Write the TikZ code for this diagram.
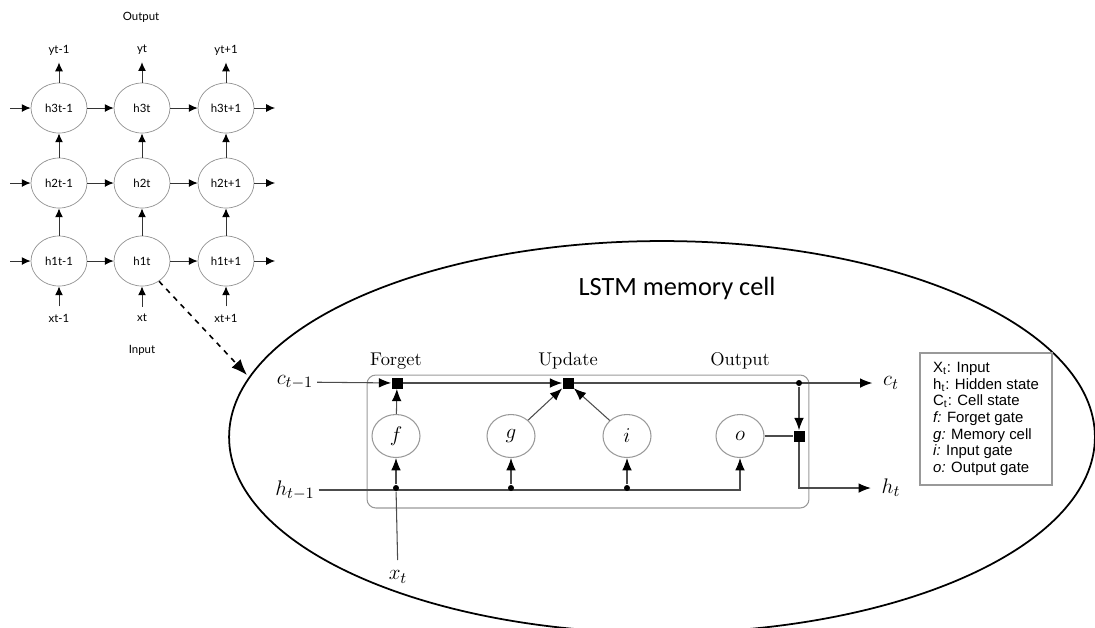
\documentclass[tikz,border=0pt]{standalone}
\usepackage{fontspec}
\newfontfamily\gridfont{Lato}
\newfontfamily\titlefont{Carlito}
\newfontfamily\legendfont{Liberation Sans}
\usetikzlibrary{shapes,arrows.meta,positioning,calc}

\begin{document}
\begin{tikzpicture}[x=0.02cm, y=-0.02cm,
    >={Latex[length=7pt,width=5.5pt,color=black]},
    rnn/.style={ellipse, draw=gray!85, minimum width=1.12cm, minimum height=1cm, inner sep=0pt, font=\gridfont\fontsize{6.5}{7}\selectfont},
    glbl/.style={font=\gridfont\fontsize{6.5}{7}\selectfont, inner sep=1pt},
    garr/.style={->, draw=black!80, line width=0.55pt, >={Latex[length=5pt,width=4.5pt,color=black]}},
    gate/.style={ellipse, draw=gray!80, line width=0.6pt, minimum width=0.96cm, minimum height=0.86cm, inner sep=0pt, font=\fontsize{12}{14}\selectfont},
    mult/.style={rectangle, fill=black, minimum size=0.22cm, inner sep=0pt},
    dot/.style={circle, minimum size=0.13cm, inner sep=0pt},
    flow/.style={draw=black!70, line width=0.6pt},
    var/.style={font=\fontsize{13}{15}\selectfont, inner sep=2pt},
    stage/.style={font=\fontsize{10.5}{12}\selectfont, anchor=base}
]
\useasboundingbox (0,0) rectangle (1095,627);

% Stacked RNN
\node[glbl] (outlbl) at (141,17) {Output};
\node[glbl] (inlbl) at (142,350) {Input};
\foreach \c/\x/\s in {1/59/t-1, 2/142/t, 3/226/t+1} {
  \node[glbl] (y\c) at (\x,50) {y\s};
  \node[glbl] (x\c) at (\x,318) {x\s};
  \foreach \r/\y in {1/261, 2/183, 3/108}
    \node[rnn] (h\r\c) at (\x,\y) {h\r\s};
}
\foreach \c in {1,2,3} {
  \draw[garr, shorten <=3pt] (x\c) -- (h1\c);
  \draw[garr] (h1\c) -- (h2\c);
  \draw[garr] (h2\c) -- (h3\c);
  \draw[garr, shorten >=3pt] (h3\c) -- (y\c);
}
\foreach \r/\y in {1/261, 2/183, 3/108} {
  \coordinate (in\r) at (10,\y);
  \coordinate (out\r) at (275,\y);
  \draw[garr] (in\r) -- (h\r1);
  \draw[garr] (h\r1) -- (h\r2);
  \draw[garr] (h\r2) -- (h\r3);
  \draw[garr] (h\r3) -- (out\r);
}

% Zoom into the cell
\node[ellipse, draw, line width=1pt, minimum width=17.32cm, minimum height=7.84cm] (cell) at (662,437) {};
\coordinate (zoomin) at (247,375);
\draw[->, dashed, line width=0.9pt, >={Latex[length=9pt,width=7pt]}] (h12.-50) -- (zoomin);
\node[font=\titlefont\fontsize{15}{18}\selectfont, anchor=base] (title) at (677,295) {LSTM memory cell};

% LSTM cell
\node[draw=gray!80, line width=0.6pt, rounded corners=5pt, minimum width=8.84cm, minimum height=2.66cm] (lstm) at (588,441.5) {};
\node[stage] (forget) at (396,365) {Forget};
\node[stage] (update) at (568,365) {Update};
\node[stage] (output) at (740,365) {Output};

\node[gate] (ff) at (396,436) {$f$};
\node[gate] (gg) at (511,436) {$g$};
\node[gate] (ii) at (627,436) {$i$};
\node[gate] (oo) at (740,436) {$o$};

\node[mult] (fmul) at (397,383) {};
\node[mult] (umul) at (568,383) {};
\node[mult] (omul) at (799,436) {};
\node[dot] (cdot) at (799,383) {};
\node[dot] (hd1) at (396,488) {};
\node[dot] (hd2) at (511,488) {};
\node[dot] (hd3) at (627,488) {};

\node[var] (cprev) at (295,382) {$c_{t-1}$};
\node[var] (hprev) at (295,490) {$h_{t-1}$};
\node[var] (ct) at (891,383) {$c_t$};
\node[var] (ht) at (891,488) {$h_t$};
\node[var] (xt) at (398,577) {$x_t$};

\draw[flow, ->] (cprev) -- (fmul);
\draw[flow, ->] (fmul) -- (umul);
\draw[flow, ->, shorten >=4pt] (umul) -- (ct);
\draw[flow, ->] (cdot) -- (omul);
\draw[flow] (oo) -- (omul);
\draw[flow, ->, shorten >=4pt] (omul) |- (ht);
\draw[flow, ->] (ff) -- (fmul);
\draw[flow, ->] (gg) -- (umul);
\draw[flow, ->] (ii) -- (umul);
\draw[flow, ->] (hprev) -| (oo);
\draw[flow, ->] (hd1) -- (ff);
\draw[flow, ->] (hd2) -- (gg);
\draw[flow, ->] (hd3) -- (ii);
\draw[flow, shorten <=4pt] (xt) -- (hd1);

% junction dots on top of the lines
\foreach \d in {cdot, hd1, hd2, hd3}
  \fill (\d) circle[radius=3];

% Legend
\node[draw=gray!80, line width=0.8pt, minimum width=2.64cm, minimum height=2.64cm, align=left,
      font=\legendfont\fontsize{8.5}{9.5}\selectfont] (legend) at (986,419)
  {X\textsubscript{t}: Input\\ h\textsubscript{t}: Hidden state\\ C\textsubscript{t}: Cell state\\
   \textit{f:} Forget gate\\ \textit{g:} Memory cell\\ \textit{i:} Input gate\\ \textit{o:} Output gate};
\end{tikzpicture}
\end{document}
